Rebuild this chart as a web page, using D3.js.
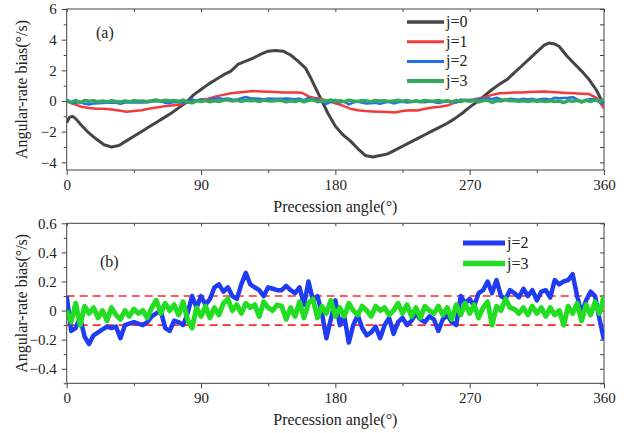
<!DOCTYPE html>
<html>
<head>
<meta charset="utf-8">
<script src="https://cdn.jsdelivr.net/npm/d3@7/dist/d3.min.js"></script>
<style>
  body { margin: 0; background: #fff; }
  svg text { font-family: "Liberation Serif", "Times New Roman", serif; fill: #222; }
</style>
</head>
<body>
<div id="canvas"></div>
<script>
// ---- data ----
var xTicks = [0, 90, 180, 270, 360];
var yTicksA = [-4, -2, 0, 2, 4, 6];
var yTicksB = [-0.4, -0.2, 0, 0.2, 0.4, 0.6];

// j=0, panel (a)
var angles0 = [0, 2, 4, 6, 10, 15, 20, 25, 30, 35, 40, 45, 50, 55, 60, 65, 70, 75, 80, 85, 90,
  95, 100, 105, 110, 115, 120, 125, 130, 135, 140, 145, 150, 155, 160, 163, 165, 170, 175, 180,
  185, 190, 195, 200, 205, 210, 215, 220, 225, 230, 235, 240, 245, 250, 255, 260, 265, 270, 275,
  280, 285, 290, 295, 300, 305, 310, 315, 320, 323, 327, 330, 335, 340, 345, 350, 355, 358, 360];
var values0 = [-1.4, -1.05, -1.0, -1.15, -1.6, -2.1, -2.5, -2.85, -3.0, -2.9, -2.6, -2.3, -2.0, -1.7, -1.4, -1.1, -0.8, -0.45, -0.1, 0.4, 0.75,
  1.1, 1.4, 1.7, 1.95, 2.4, 2.6, 2.8, 3.05, 3.25, 3.3, 3.25, 3.0, 2.6, 2.15, 1.6, 1.2, 0.2, -0.8, -1.65,
  -2.2, -2.6, -3.1, -3.55, -3.65, -3.55, -3.45, -3.2, -2.95, -2.7, -2.45, -2.2, -1.95, -1.7, -1.45, -1.15, -0.8, -0.4, -0.05,
  0.35, 0.75, 1.1, 1.4, 1.85, 2.3, 2.75, 3.2, 3.65, 3.78, 3.72, 3.55, 2.95, 2.45, 1.95, 1.4, 0.7, 0.1, -0.2];

// j=1, panel (a)
var angles1 = [0, 5, 10, 15, 20, 25, 30, 35, 40, 45, 50, 55, 60, 65, 70, 75, 80, 85, 90, 95, 100,
  105, 110, 115, 120, 125, 130, 135, 140, 145, 150, 155, 158, 162, 166, 170, 175, 180, 185, 190, 195,
  200, 205, 210, 215, 220, 225, 230, 235, 240, 245, 250, 255, 260, 265, 270, 275, 280, 285, 290,
  295, 300, 305, 310, 315, 320, 325, 330, 335, 340, 345, 350, 355, 358, 360];
var values1 = [0.0, -0.2, -0.38, -0.45, -0.5, -0.5, -0.55, -0.62, -0.7, -0.65, -0.6, -0.5, -0.42, -0.35, -0.3, -0.25, -0.1, -0.05, 0.1, 0.15, 0.3,
  0.4, 0.5, 0.55, 0.6, 0.65, 0.62, 0.6, 0.58, 0.56, 0.55, 0.55, 0.52, 0.3, 0.2, 0.15, 0.0, -0.15, -0.3, -0.5, -0.6,
  -0.65, -0.68, -0.7, -0.72, -0.75, -0.65, -0.6, -0.62, -0.5, -0.42, -0.38, -0.3, -0.1, 0.0, 0.05, 0.15, 0.25, 0.4, 0.5,
  0.52, 0.55, 0.55, 0.58, 0.6, 0.62, 0.58, 0.55, 0.52, 0.5, 0.48, 0.45, 0.2, -0.2, -0.5];

// j=2 and j=3 (same series in both panels), sampled every 3 degrees
var anglesN = d3.range(0, 361, 3);
var values2 = [0.1, -0.14, -0.12, -0.05, -0.18, -0.23, -0.17, -0.15, -0.13, -0.11, -0.12, -0.11, -0.19, -0.1, -0.09, -0.08, -0.09, -0.1, -0.08, -0.04,
  -0.02, 0.0, -0.12, -0.14, -0.07, -0.08, -0.1, -0.02, 0.1, 0.02, 0.1, 0.04, 0.08, 0.16, 0.18, 0.13, 0.16, 0.1, 0.08, 0.18,
  0.26, 0.18, 0.16, 0.14, 0.1, 0.16, 0.15, 0.14, 0.14, 0.17, 0.14, 0.12, 0.16, 0.04, 0.2, 0.07, 0.1, -0.02, -0.19, -0.06,
  0.07, -0.1, -0.04, -0.22, -0.1, -0.03, -0.12, -0.17, -0.15, -0.11, -0.19, -0.1, -0.05, -0.16, -0.08, -0.05, -0.1, -0.07, -0.02, -0.06,
  -0.08, -0.04, -0.06, -0.14, -0.06, -0.03, -0.08, -0.1, 0.1, 0.05, 0.08, 0.03, 0.12, 0.14, 0.2, 0.12, 0.21, 0.1, 0.08, 0.14,
  0.12, 0.09, 0.15, 0.1, 0.14, 0.07, 0.13, 0.14, 0.09, 0.21, 0.18, 0.2, 0.21, 0.25, 0.1, -0.02, 0.07, 0.13, 0.1, -0.06, -0.2];
var values3 = [0.0, -0.08, 0.05, -0.1, 0.03, -0.02, 0.02, -0.05, 0.0, -0.07, 0.02, -0.03, -0.06, 0.0, -0.04, 0.01, -0.02, 0.0, -0.05, 0.02,
  0.07, -0.02, 0.05, 0.0, 0.04, -0.03, 0.06, -0.06, -0.12, 0.02, -0.04, 0.03, -0.05, 0.02, -0.03, 0.05, 0.08, 0.0, 0.04, -0.02,
  0.05, 0.02, 0.04, -0.04, 0.06, 0.02, 0.0, 0.04, 0.03, -0.06, 0.02, -0.04, 0.06, -0.05, 0.05, 0.08, -0.05, 0.03, -0.02, 0.07,
  -0.04, 0.02, -0.04, 0.05, 0.0, -0.03, 0.03, 0.0, -0.04, 0.03, 0.0, 0.02, -0.03, 0.0, 0.05, -0.02, 0.04, -0.04, 0.02, -0.05,
  0.03, 0.0, -0.02, 0.03, -0.03, 0.02, -0.06, 0.04, -0.03, 0.05, -0.02, 0.04, -0.05, 0.02, 0.06, -0.1, 0.03, 0.0, 0.08, 0.02,
  0.01, -0.02, 0.02, -0.03, 0.03, -0.02, 0.02, -0.04, 0.02, -0.03, 0.0, -0.1, 0.03, -0.02, 0.05, -0.07, 0.04, -0.03, 0.06, -0.02, 0.1];

var limitB = [-0.1, 0.1];

var canvas_d = {width: 629, height: 433},
    plotLeft = 66.7, plotRight = 604;

var svg = d3.select('#canvas').append('svg')
    .attr('width', canvas_d.width)
    .attr('height', canvas_d.height);

var x = d3.scaleLinear().domain([0, 360]).range([plotLeft, plotRight]);

function zip(xs, ys) {
  return xs.map(function(a, i) { return [a, ys[i]]; });
}

function drawPanel(p) {
  var y = d3.scaleLinear().domain(p.domain).range([p.bottom, p.top]);
  var g = svg.append('g');

  g.append('clipPath').attr('id', p.id + 'clip')
    .append('rect')
      .attr('x', plotLeft).attr('y', p.top)
      .attr('width', plotRight - plotLeft).attr('height', p.bottom - p.top);

  // bottom axis, outward ticks with labels
  g.append('g')
      .attr('transform', 'translate(0,' + p.bottom + ')')
      .call(d3.axisBottom(x).tickValues(xTicks).tickSize(5).tickSizeOuter(0).tickPadding(4))
      .call(function(a) { a.select('.domain').remove(); })
      .selectAll('text').style('font-size', '15px');
  g.append('g')
      .attr('transform', 'translate(0,' + p.bottom + ')')
      .call(d3.axisBottom(x).tickValues([45, 135, 225, 315]).tickSize(3).tickFormat(''))
      .call(function(a) { a.select('.domain').remove(); });

  // left axis, outward ticks with labels
  g.append('g')
      .attr('transform', 'translate(' + plotLeft + ',0)')
      .call(d3.axisLeft(y).tickValues(p.ticks).tickSize(5).tickSizeOuter(0).tickPadding(5)
        .tickFormat(p.fmt))
      .call(function(a) { a.select('.domain').remove(); })
      .selectAll('text').style('font-size', '15px');
  g.append('g')
      .attr('transform', 'translate(' + plotLeft + ',0)')
      .call(d3.axisLeft(y).tickValues(p.minor).tickSize(3).tickFormat(''))
      .call(function(a) { a.select('.domain').remove(); });

  // top and right axes, inward ticks
  g.append('g')
      .attr('transform', 'translate(0,' + p.top + ')')
      .call(d3.axisTop(x).tickValues(xTicks.concat([45, 135, 225, 315])).tickSize(-3).tickFormat(''))
      .call(function(a) { a.select('.domain').remove(); });
  g.append('g')
      .attr('transform', 'translate(' + plotRight + ',0)')
      .call(d3.axisRight(y).tickValues(p.ticks.concat(p.minor)).tickSize(-4).tickFormat(''))
      .call(function(a) { a.select('.domain').remove(); });

  g.selectAll('.tick line').attr('stroke', '#444');

  // frame
  g.append('rect')
      .attr('x', plotLeft).attr('y', p.top)
      .attr('width', plotRight - plotLeft).attr('height', p.bottom - p.top)
      .attr('fill', 'none').attr('stroke', '#444').attr('stroke-width', 1);

  // reference lines
  if (p.limits) {
    g.selectAll('.limit')
        .data(p.limits)
      .enter().append('line')
        .attr('x1', plotLeft).attr('x2', plotRight)
        .attr('y1', function(d) { return y(d); })
        .attr('y2', function(d) { return y(d); })
        .attr('stroke', '#ff2a2a').attr('stroke-width', 1.6)
        .attr('stroke-dasharray', '8,5');
  }

  var line = d3.line()
      .x(function(d) { return x(d[0]); })
      .y(function(d) { return y(d[1]); });

  g.append('g').attr('clip-path', 'url(#' + p.id + 'clip)')
    .selectAll('path')
      .data(p.series)
    .enter().append('path')
      .attr('d', function(s) { return line(s.data); })
      .attr('fill', 'none')
      .attr('stroke', function(s) { return s.color; })
      .attr('stroke-width', function(s) { return s.width; })
      .attr('stroke-linejoin', 'round');

  // legend
  var leg = g.selectAll('.leg')
      .data(p.series.filter(function(s) { return s.label; }))
    .enter().append('g')
      .attr('transform', function(s, i) { return 'translate(' + p.legend.x + ',' + (p.legend.y + i * p.legend.dy) + ')'; });
  leg.append('line')
      .attr('x1', 0).attr('x2', p.legend.len)
      .attr('stroke', function(s) { return s.color; })
      .attr('stroke-width', function(s) { return s.width + 0.5; });
  leg.append('text')
      .attr('x', p.legend.len + 2).attr('y', 5)
      .style('font-size', '16px')
      .text(function(s) { return s.label; });

  // panel tag
  g.append('text')
      .attr('x', p.tag.x).attr('y', p.tag.y)
      .style('font-size', '16px')
      .text(p.tag.text);

  // axis titles
  g.append('text')
      .attr('x', (plotLeft + plotRight) / 2).attr('y', p.bottom + 42)
      .attr('text-anchor', 'middle')
      .style('font-size', '16px')
      .text('Precession angle(°)');
  g.append('text')
      .attr('transform', 'translate(' + 27 + ',' + ((p.top + p.bottom) / 2) + ') rotate(-90)')
      .attr('text-anchor', 'middle')
      .style('font-size', '16px')
      .text('Angular-rate bias(°/s)');
}

drawPanel({
  id: 'a', top: 9, bottom: 170, domain: [-4.5, 6],
  ticks: yTicksA, minor: [-3, -1, 1, 3, 5],
  fmt: d3.format('d'),
  series: [
    {label: 'j=0', color: '#454545', width: 3, data: zip(angles0, values0)},
    {label: 'j=1', color: '#f23b3b', width: 2.5, data: zip(angles1, values1)},
    {label: 'j=2', color: '#2070e8', width: 2.5, data: zip(anglesN, values2)},
    {label: 'j=3', color: '#35a860', width: 3.5, data: zip(anglesN, values3)}
  ],
  legend: {x: 407, y: 22, dy: 19.7, len: 37},
  tag: {x: 96, y: 38, text: '(a)'}
});

drawPanel({
  id: 'b', top: 223.3, bottom: 383.3, domain: [-0.5, 0.6],
  ticks: yTicksB, minor: [-0.5, -0.3, -0.1, 0.1, 0.3, 0.5],
  fmt: function(d) { return d === 0 ? '0' : d3.format('.1f')(d); },
  limits: limitB,
  series: [
    {label: 'j=2', color: '#1f3cf2', width: 4.5, data: zip(anglesN, values2)},
    {label: 'j=3', color: '#22dd22', width: 5, data: zip(anglesN, values3)}
  ],
  legend: {x: 463, y: 243, dy: 20.5, len: 42},
  tag: {x: 100, y: 267, text: '(b)'}
});
</script>
</body>
</html>
